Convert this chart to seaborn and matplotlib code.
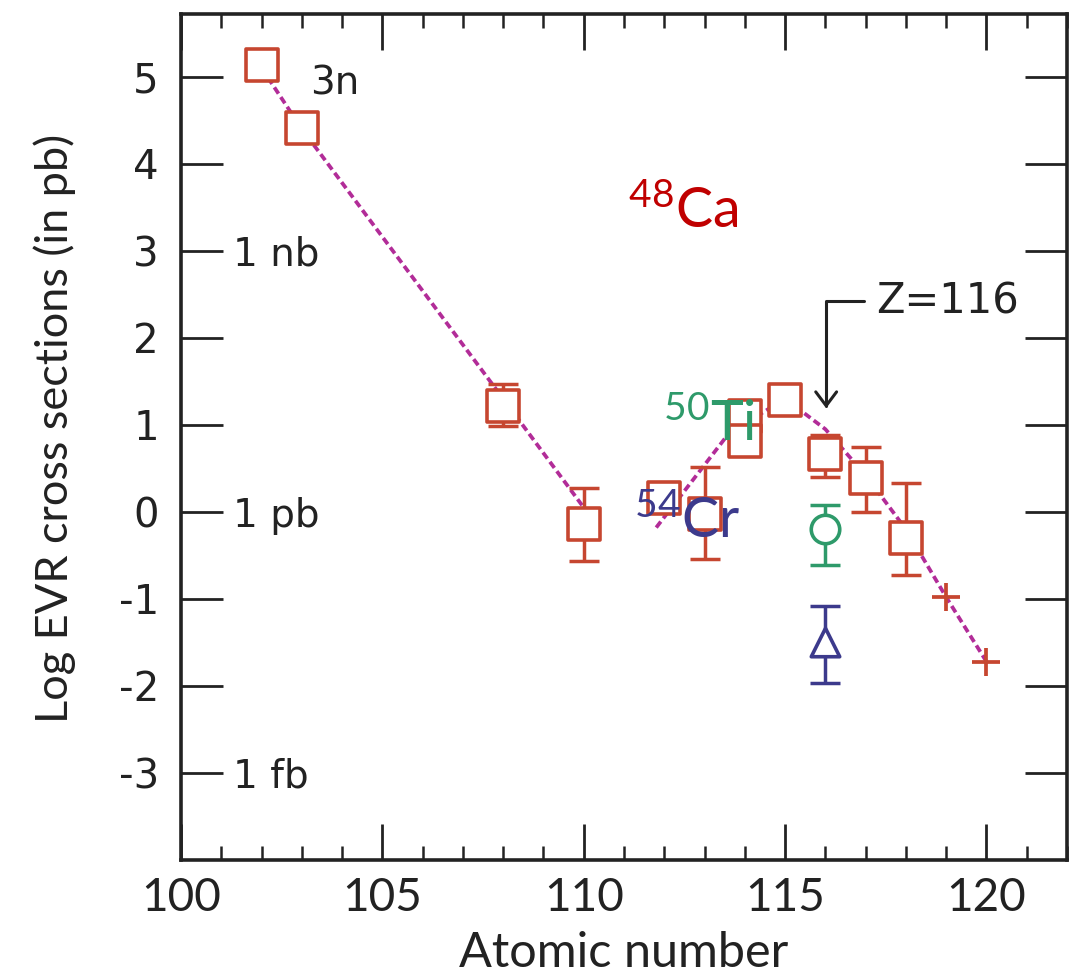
import matplotlib
matplotlib.use('Agg')
import matplotlib.pyplot as plt
from matplotlib.ticker import MultipleLocator
import numpy as np
import pandas as pd
import seaborn as sns

# 48Ca reactions (red squares)
ca_z = [102, 103, 108, 110, 112, 113, 114, 114, 115, 116, 117, 118]
ca_log = [5.13, 4.41, 1.22, -0.14, 0.16, -0.02, 1.10, 0.82, 1.29, 0.66, 0.39, -0.30]

# 48Ca points that carry error bars
ca_err_z = [108, 110, 113, 116, 117, 118]
ca_err_mid = [1.22, -0.14, -0.02, 0.66, 0.39, -0.30]
ca_err_hi = [1.47, 0.27, 0.51, 0.88, 0.74, 0.33]
ca_err_lo = [0.99, -0.56, -0.54, 0.40, 0.00, -0.72]

# upper limits / predictions (plus markers)
cross_z = [119, 120]
cross_log = [-0.98, -1.72]

# 50Ti (green circle) and 54Cr (blue triangle), Z=116
ti_z = [116]
ti_log = [-0.20]
ti_hi = [0.08]
ti_lo = [-0.61]

cr_z = [116]
cr_log = [-1.50]
cr_hi = [-1.08]
cr_lo = [-1.97]

# dashed guide curves
fit1_z = [102, 103, 108, 110]
fit1_log = [5.10, 4.40, 1.30, 0.05]
fit2_z = [111.8, 113.6, 115.0, 116.0, 117.0, 118.0, 119.0, 120.0]
fit2_log = [-0.18, 0.90, 1.30, 0.95, 0.42, -0.20, -0.98, -1.72]

RED = '#c64630'
MAG = '#b22c98'
GREEN = '#2e9a6a'
BLUE = '#3c3a8c'
DARK = '#222222'

sns.set_theme(style='ticks')
plt.rcParams['font.family'] = ['DejaVu Sans']
plt.rcParams['axes.unicode_minus'] = False
plt.rcParams['mathtext.fontset'] = 'custom'
plt.rcParams['mathtext.rm'] = 'Lato'

fig = plt.figure(figsize=(10.78, 9.8), dpi=100)
ax = fig.add_axes([0.1679, 0.1224, 0.8219, 0.8633])

# dashed curves
for xs, ys in [(fit1_z, fit1_log), (fit2_z, fit2_log)]:
    sns.lineplot(x=xs, y=ys, ax=ax, sort=False, estimator=None, color=MAG,
                 linewidth=2.7, linestyle=(0, (2.0, 1.1)), zorder=2)

# error bars
def err(zs, mid, hi, lo, color):
    mid = np.array(mid)
    yerr = [mid - np.array(lo), np.array(hi) - mid]
    ax.errorbar(zs, mid, yerr=yerr, fmt='none', ecolor=color, elinewidth=2.5,
                capsize=10.5, capthick=2.5, zorder=3)

err(ca_err_z, ca_err_mid, ca_err_hi, ca_err_lo, RED)
err(ti_z, ti_log, ti_hi, ti_lo, GREEN)
err(cr_z, cr_log, cr_hi, cr_lo, BLUE)

# markers
sns.scatterplot(x=ca_z, y=ca_log, ax=ax, marker='s', s=500, color='white',
                edgecolor=RED, linewidth=2.6, zorder=4)
sns.scatterplot(x=cross_z, y=cross_log, ax=ax, marker='+', s=380, color=RED,
                linewidth=2.7, zorder=4)
sns.scatterplot(x=ti_z, y=ti_log, ax=ax, marker='o', s=420, color='white',
                edgecolor=GREEN, linewidth=2.6, zorder=4)
sns.scatterplot(x=cr_z, y=cr_log, ax=ax, marker='^', s=420, color='white',
                edgecolor=BLUE, linewidth=2.6, zorder=4)

# axes
ax.set_xlim(100, 122)
ax.set_ylim(-4.0, 5.72)
ax.set_xticks(range(100, 121, 5))
ax.xaxis.set_minor_locator(MultipleLocator(1))
ax.set_yticks(range(-3, 6))
ax.tick_params(axis='x', which='major', direction='in', length=26, width=2,
               top=True, bottom=True, pad=12, labelsize=33, colors=DARK)
ax.tick_params(axis='x', which='minor', direction='in', length=10, width=1.8,
               top=True, bottom=True, colors=DARK)
ax.tick_params(axis='y', which='major', direction='in', length=30, width=2,
               left=True, right=True, pad=16, labelsize=29, colors=DARK)
for lab in ax.get_xticklabels():
    lab.set_fontfamily('Lato')
for sp in ax.spines.values():
    sp.set_linewidth(2.6)
    sp.set_color(DARK)
    sp.set_visible(True)

ax.set_xlabel('Atomic number', fontsize=35, fontfamily='Lato', color=DARK, labelpad=9)
ax.set_ylabel('Log EVR cross sections (in pb)', fontsize=32.5, fontfamily='Lato',
              color=DARK)
ax.yaxis.set_label_coords(-0.118, 0.51)

# unit labels next to ticks
for y, s in [(2.83, '1 nb'), (-0.17, '1 pb'), (-3.17, '1 fb')]:
    ax.text(101.3, y, s, fontsize=28, color=DARK, ha='left', va='baseline')
ax.text(103.2, 4.8, '3n', fontsize=28, color=DARK, ha='left', va='baseline')

# projectile labels
ax.text(111.1, 3.26, r'$\mathregular{^{48}}$Ca', fontsize=40, fontfamily='Lato',
        color='#c00000', ha='left', va='baseline', zorder=6)
ax.text(111.97, 0.82, r'$\mathregular{^{50}}$Ti', fontsize=40, fontfamily='Lato',
        color=GREEN, ha='left', va='baseline', zorder=6)
ax.text(111.24, -0.30, r'$\mathregular{^{54}}$Cr', fontsize=40, fontfamily='Lato',
        color=BLUE, ha='left', va='baseline', zorder=6)

# Z=116 pointer
ax.annotate('Z=116', xy=(116.02, 1.19), xytext=(117.26, 2.42), textcoords='data',
            fontsize=30, color=DARK, ha='left', va='center',
            arrowprops=dict(arrowstyle='->, head_length=0.4, head_width=0.3',
                            mutation_scale=25, color=DARK, lw=2.2,
                            connectionstyle='angle,angleA=180,angleB=90,rad=0',
                            relpos=(0, 0.5), shrinkA=6, shrinkB=0))

fig.savefig('out.png', dpi=100, facecolor='white')
